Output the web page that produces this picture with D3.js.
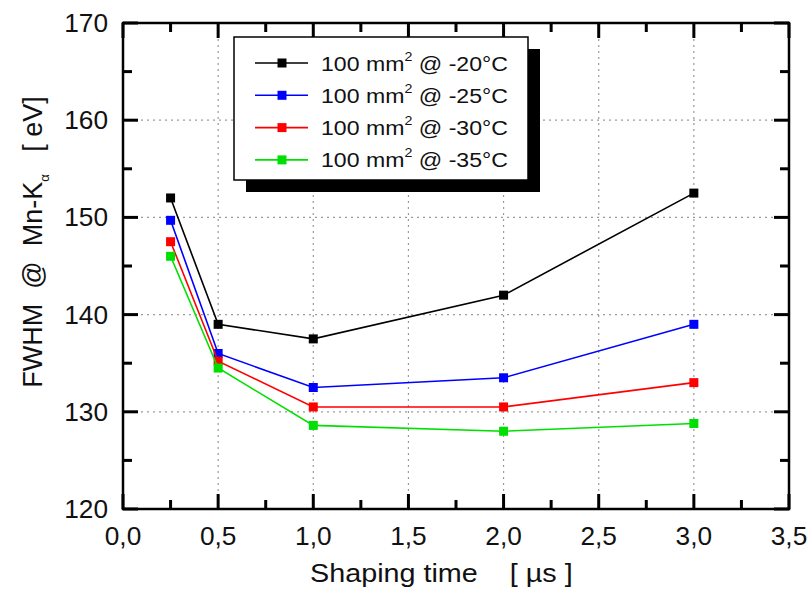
<!DOCTYPE html>
<html>
<head>
<meta charset="utf-8">
<script src="https://cdn.jsdelivr.net/npm/d3@7"></script>
<style>
  body { margin: 0; background: #fff; }
  svg text { font-family: "Liberation Sans", Arial, sans-serif; fill: #111; }
</style>
</head>
<body>
<svg id="chart" width="808" height="590"></svg>
<script>
// shaping times (µs)
const times = [0.25, 0.5, 1.0, 2.0, 3.0];
const temps = ["-20°C", "-25°C", "-30°C", "-35°C"];
const colors = ["#000000", "#0000ff", "#ff0000", "#00e000"];
// FWHM @ Mn-Ka (eV), one array per temperature
const fwhm20 = [152.0, 139.0, 137.5, 142.0, 152.5];
const fwhm25 = [149.7, 136.0, 132.5, 133.5, 139.0];
const fwhm30 = [147.5, 135.2, 130.5, 130.5, 133.0];
const fwhm35 = [146.0, 134.5, 128.6, 128.0, 128.8];
const series = [fwhm20, fwhm25, fwhm30, fwhm35];

const xTicks = [0, 0.5, 1.0, 1.5, 2.0, 2.5, 3.0, 3.5];
const yTicks = [120, 130, 140, 150, 160, 170];
const xMinor = [0.25, 0.75, 1.25, 1.75, 2.25, 2.75, 3.25];
const yMinor = [125, 135, 145, 155, 165];

const margin = {left: 123, right: 19, top: 23, bottom: 81};
const W = 808, H = 590;

const svg = d3.select("#chart");

const x = d3.scaleLinear().domain([0, 3.5]).range([margin.left, W - margin.right]);
const y = d3.scaleLinear().domain([120, 170]).range([H - margin.bottom, margin.top]);

const fmt = d => d3.format(".1f")(d).replace(".", ",");

// text helper: the original looks slightly stretched sideways
function label(px, py, str, size, sx, anchor) {
  return svg.append("text")
    .attr("transform", `translate(${px},${py}) scale(${sx},1)`)
    .attr("text-anchor", anchor || "middle")
    .attr("font-size", size)
    .style("white-space", "pre")
    .text(str);
}

// grid
svg.append("g").selectAll("line")
  .data(xTicks.slice(1, -1)).enter().append("line")
  .attr("x1", d => x(d)).attr("x2", d => x(d))
  .attr("y1", y(120)).attr("y2", y(170))
  .attr("stroke", "#9a9a9a").attr("stroke-width", 1.2).attr("stroke-dasharray", "2,4");
svg.append("g").selectAll("line")
  .data(yTicks.slice(1, -1)).enter().append("line")
  .attr("y1", d => y(d)).attr("y2", d => y(d))
  .attr("x1", x(0)).attr("x2", x(3.5))
  .attr("stroke", "#9a9a9a").attr("stroke-width", 1.2).attr("stroke-dasharray", "2,4");

const x0 = x(0), x1 = x(3.5), yb = y(120), yt0 = y(170);

// frame
svg.append("rect")
  .attr("x", x0).attr("y", yt0)
  .attr("width", x1 - x0).attr("height", yb - yt0)
  .attr("fill", "none").attr("stroke", "#000").attr("stroke-width", 2.5);

// ticks, inward on all four sides
const tk = svg.append("g").attr("fill", "#000");
const tw = 3;
[[xTicks, 15], [xMinor, 9]].forEach(([vals, len]) => {
  vals.forEach(v => {
    tk.append("rect").attr("x", x(v) - tw / 2).attr("y", yb - len).attr("width", tw).attr("height", len);
    tk.append("rect").attr("x", x(v) - tw / 2).attr("y", yt0).attr("width", tw).attr("height", len);
  });
});
[[yTicks, 15], [yMinor, 9]].forEach(([vals, len]) => {
  vals.forEach(v => {
    tk.append("rect").attr("x", x0).attr("y", y(v) - tw / 2).attr("width", len).attr("height", tw);
    tk.append("rect").attr("x", x1 - len).attr("y", y(v) - tw / 2).attr("width", len).attr("height", tw);
  });
});

xTicks.forEach(v => label(x(v), yb + 36, fmt(v), 25, 1.05));
yTicks.forEach(v => label(x0 - 15, y(v) + 9, String(v), 25, 1.05, "end"));

// series
const line = d3.line().x((d, i) => x(times[i])).y(d => y(d));
series.forEach((vals, k) => {
  svg.append("path").datum(vals)
    .attr("d", line).attr("fill", "none")
    .attr("stroke", colors[k]).attr("stroke-width", 1.6);
  svg.append("g").selectAll("rect").data(vals).enter().append("rect")
    .attr("x", (d, i) => x(times[i]) - 4.5).attr("y", d => y(d) - 4.5)
    .attr("width", 9).attr("height", 9).attr("fill", colors[k]);
});

// legend
const lg = {x: 234, y: 37, w: 294, h: 143};
svg.append("rect").attr("x", lg.x + 12).attr("y", lg.y + 12)
  .attr("width", lg.w).attr("height", lg.h).attr("fill", "#000");
svg.append("rect").attr("x", lg.x).attr("y", lg.y)
  .attr("width", lg.w).attr("height", lg.h)
  .attr("fill", "#fff").attr("stroke", "#000").attr("stroke-width", 1.5);
temps.forEach((t, k) => {
  const ly = 63 + k * 32.3;
  svg.append("line").attr("x1", 255).attr("x2", 308).attr("y1", ly).attr("y2", ly)
    .attr("stroke", colors[k]).attr("stroke-width", 1.6);
  svg.append("rect").attr("x", 282 - 4.5).attr("y", ly - 4.5)
    .attr("width", 9).attr("height", 9).attr("fill", colors[k]);
  const tx = label(321, ly + 7.5, null, 21, 1.1, "start");
  tx.append("tspan").text("100 mm");
  tx.append("tspan").attr("font-size", 13).attr("dy", -10).text("2");
  tx.append("tspan").attr("dy", 10).text(" @ " + t);
});

// axis titles
label(310, 582, "Shaping time    [ µs ]", 25, 1.15, "start");

const yt = svg.append("text")
  .attr("transform", "translate(42,242) rotate(-90)")
  .attr("text-anchor", "middle").attr("font-size", 27)
  .style("white-space", "pre");
yt.append("tspan").text("FWHM  @  Mn-K");
yt.append("tspan").attr("font-size", 13).attr("dy", 7).text("α");
yt.append("tspan").attr("dy", -7).text("   [ eV]");
</script>
</body>
</html>
